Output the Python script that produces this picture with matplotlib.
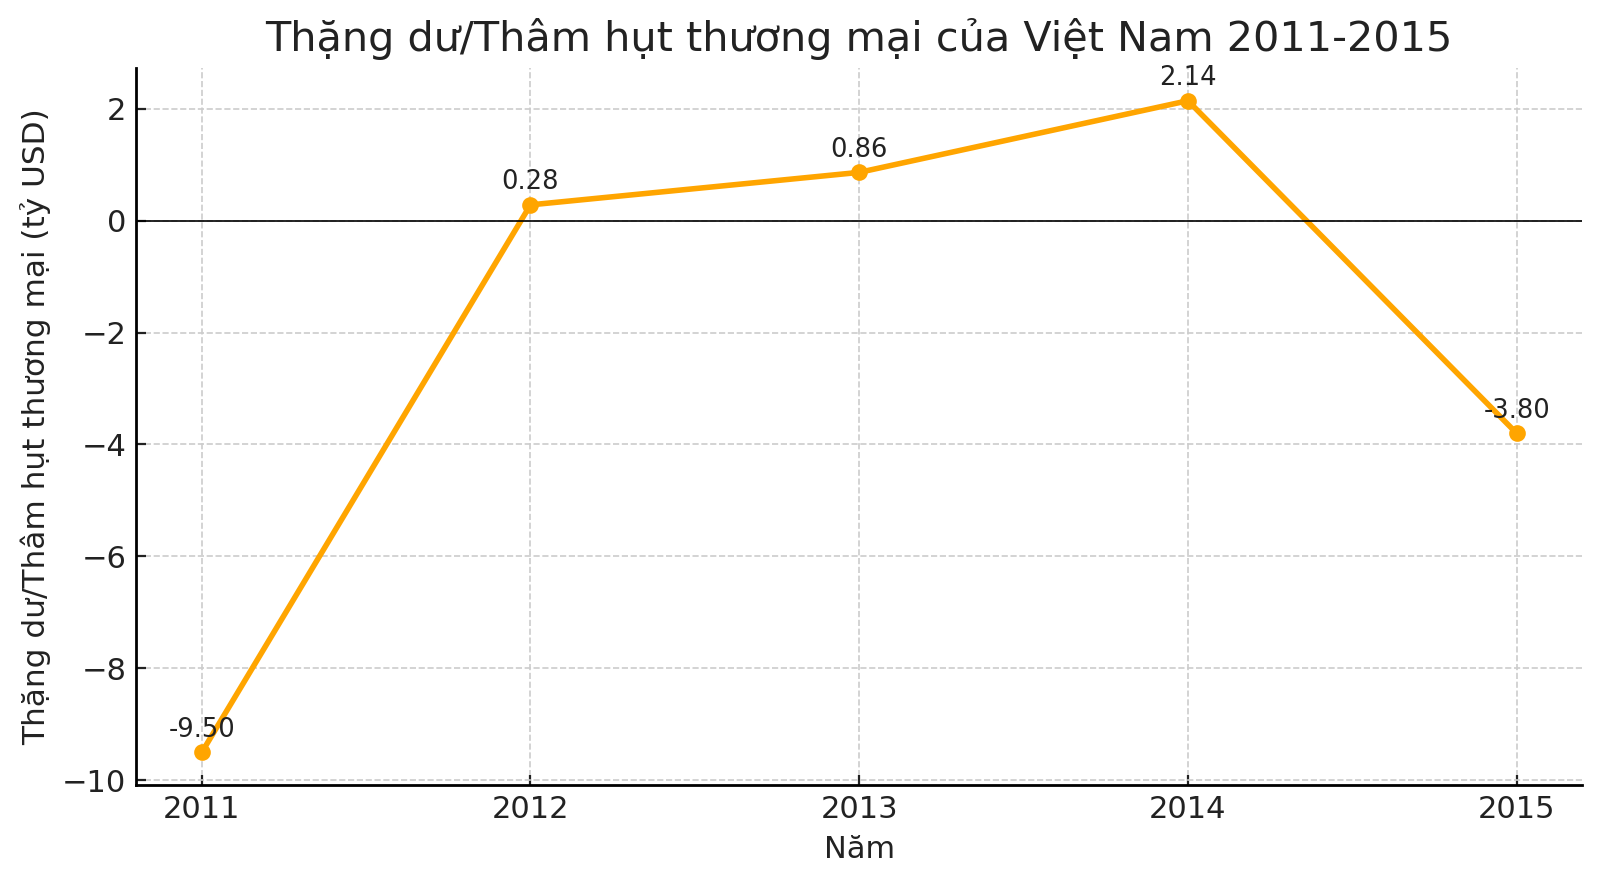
import matplotlib
matplotlib.use("Agg")
import matplotlib.pyplot as plt

years = [2011, 2012, 2013, 2014, 2015]
balance = [-9.50, 0.28, 0.86, 2.14, -3.80]

title = "Thặng dư/Thâm hụt thương mại của Việt Nam 2011-2015"
xlabel = "Năm"
ylabel = "Thặng dư/Thâm hụt thương mại (tỷ USD)"

plt.rcParams['font.family'] = ['DejaVu Sans']
fig = plt.figure(figsize=(8, 4.425), dpi=200)
ax = fig.add_axes([0.085, 0.113, 0.904, 0.81])

ax.plot(years, balance, color='#FFA500', linewidth=2.0, marker='o', markersize=5)
for x, y in zip(years, balance):
    ax.annotate(f"{y:.2f}", (x, y), xytext=(0, 3.5), textcoords='offset points',
                ha='center', va='bottom', fontsize=9.3, color='#222222')

ax.axhline(0, color='black', linewidth=0.6)
ax.set_xticks(years)
ax.grid(True, linestyle='--', color='#cccccc', linewidth=0.6)
ax.set_axisbelow(True)
for s in ['top', 'right']:
    ax.spines[s].set_visible(False)
for s in ['left', 'bottom']:
    ax.spines[s].set_linewidth(1.0)
ax.tick_params(direction='in', labelsize=11, colors='#222222', length=3.5, width=0.8)
ax.set_title(title, fontsize=14.9, color='#222222')
ax.set_xlabel(xlabel, fontsize=11, color='#222222')
ax.set_ylabel(ylabel, fontsize=11.2, color='#222222')

fig.savefig("out.png", dpi=200)
